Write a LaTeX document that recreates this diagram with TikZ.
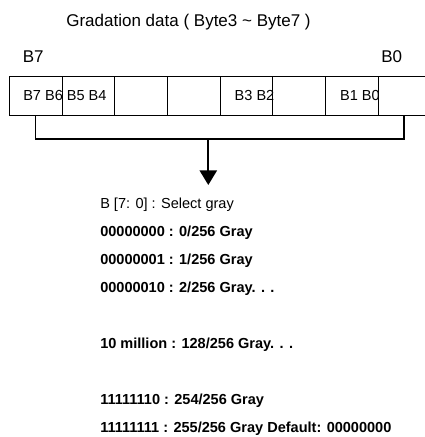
\documentclass[tikz,border=0pt]{standalone}
\usepackage{fontspec}
\setmainfont{Liberation Sans}
\usetikzlibrary{arrows.meta}

\begin{document}
\begin{tikzpicture}[x = 0.75pt, y = -0.75pt,
	cell/.style = {draw, line width = 0.7pt, minimum width = 39.5pt, minimum height = 29.25pt, inner sep = 0pt, anchor = north west},
	bits/.style = {anchor = west, inner sep = 0pt, font = \fontsize{10.9}{13}\selectfont},
	head/.style = {inner sep = 0pt, font = \fontsize{12.75}{15}\selectfont},
	grayline/.style = {anchor = west, inner sep = 0pt, font = \bfseries\fontsize{10.9}{13}\selectfont},
	link/.style = {line width = 1.2pt}]
	\useasboundingbox (0,0) rectangle (425,437);
	\clip (0,0) rectangle (425,437);
	\node[head] (title) at (188.5,22) {Gradation data ( Byte3 \char`~{} Byte7 )};
	\node[head, anchor = west] (msb) at (22.5,57) {B7};
	\node[head, anchor = west] (lsb) at (381,57) {B0};
	\foreach \i in {0,...,7} {
		\node[cell] (c\i) at ({9 + 52.7*\i},76) {};
	}
	\node[bits] (b76) at ([xshift = 10.5pt]c0.west) {B7 B6 B5 B4};
	\node[bits] (b32) at ([xshift = 11pt]c4.west) {B3 B2};
	\node[bits] (b10) at ([xshift = 11pt]c6.west) {B1 B0};
	\coordinate (lft) at (35.5,139);
	\coordinate (rgt) at (404,139);
	\coordinate (mid) at (208.3,139);
	\coordinate (tip) at (208.3,185);
	\draw[link] (lft |- c0.south) -- (lft) -- (rgt) -- (rgt |- c7.south);
	\draw[link, -{Triangle[width = 13pt, length = 11pt]}] (mid) -- (tip);
	\node[bits] (sel) at (100,205) {B [7: 0] : Select gray};
	\node[grayline] (g0) at (100,233) {00000000 : 0/256 Gray};
	\node[grayline] (g1) at (100,261) {00000001 : 1/256 Gray};
	\node[grayline] (g2) at (100,289) {00000010 : 2/256 Gray. . .};
	\node[grayline] (g128) at (100,345) {10 million : 128/256 Gray. . .};
	\node[grayline] (g254) at (100,401) {11111110 : 254/256 Gray};
	\node[grayline] (g255) at (100,429) {11111111 : 255/256 Gray Default: 00000000};
\end{tikzpicture}
\end{document}
